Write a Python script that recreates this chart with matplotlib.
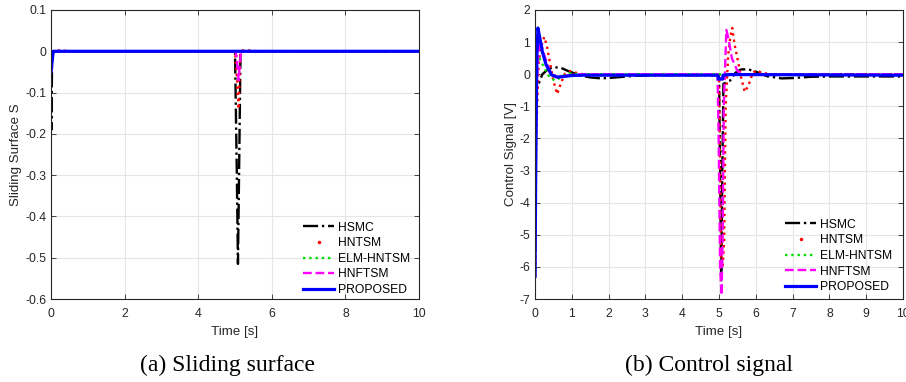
from matplotlib import pyplot as plt
from matplotlib.lines import Line2D
import numpy as np

plt.rcParams['font.family'] = ['Liberation Sans', 'DejaVu Sans']
plt.rcParams['axes.unicode_minus'] = False

labels = ['HSMC', 'HNTSM', 'ELM-HNTSM', 'HNFTSM', 'PROPOSED']

# ---- (a) sliding surface ----
s_hsmc_t = [0, 0.01, 0.03, 0.06, 5.0, 5.05, 5.08, 5.11, 5.15, 10]
s_hsmc = [-0.05, -0.19, -0.02, 0, 0, -0.3, -0.515, -0.3, 0, 0]
s_hntsm_t = [0, 0.03, 0.1, 0.3, 0.5, 5.0, 5.05, 5.1, 5.14, 5.2, 5.4, 5.6, 10]
s_hntsm = [-0.05, -0.01, 0.002, 0.002, 0, 0, -0.06, -0.14, -0.01, 0.002, 0.002, 0, 0]
s_elm_t = [0, 0.05, 10]
s_elm = [-0.05, 0, 0]
s_hnftsm_t = [0, 0.05, 5.0, 5.04, 5.08, 5.1, 5.13, 5.17, 10]
s_hnftsm = [-0.05, 0, 0, -0.01, -0.05, -0.07, -0.03, 0, 0]
s_prop_t = [0, 0.06, 10]
s_prop = [-0.05, 0, 0]

# ---- (b) control signal ----
u_hsmc_t = [0, 0.03, 0.1, 0.2, 0.35, 0.5, 0.7, 0.9, 1.2, 1.5, 1.8, 2.2, 2.7, 3.2,
            5.0, 5.03, 5.06, 5.09, 5.12, 5.3, 5.45, 5.6, 5.8, 6.0, 6.3, 6.7, 7.0, 7.5, 8, 10]
u_hsmc = [-6.3, -0.4, -0.3, 0.0, 0.15, 0.22, 0.2, 0.1, -0.03, -0.1, -0.13, -0.1, -0.05, -0.03,
          -0.03, -3.0, -6.45, -3.0, -0.3, -0.2, 0.05, 0.15, 0.15, 0.08, -0.06, -0.13, -0.12, -0.08, -0.07, -0.07]
u_hntsm_t = [0, 0.03, 0.1, 0.18, 0.25, 0.32, 0.4, 0.5, 0.6, 0.7, 0.8, 0.95, 1.1, 1.3,
             5.0, 5.06, 5.1, 5.14, 5.18, 5.25, 5.3, 5.36, 5.42, 5.5, 5.6, 5.7, 5.8, 5.92, 6.02, 6.15, 6.4, 10]
u_hntsm = [-6.3, -2.0, 0.4, 0.9, 1.16, 0.9, 0.4, -0.2, -0.62, -0.3, 0.0, 0.1, 0.05, 0.0,
           0.0, -5.7, -6.0, -5.2, -1.0, 0.6, 1.1, 1.44, 0.95, 0.5, -0.1, -0.55, -0.35, 0.05, 0.12, 0.05, 0.0, 0.0]
u_elm_t = [0, 0.03, 0.07, 0.12, 0.25, 0.4, 0.55, 0.7, 0.9, 1.2, 10]
u_elm = [-6.3, -1.0, 0.6, 0.5, 0.2, -0.1, -0.2, -0.1, 0.03, 0.0, 0.0]
u_hnftsm_t = [0, 0.03, 0.08, 0.14, 0.25, 0.4, 0.6, 0.8, 1.2, 4.96, 4.99, 5.03, 5.07, 5.1, 5.13,
              5.2, 5.26, 5.35, 5.5, 5.7, 6.0, 10]
u_hnftsm = [-6.3, -1.0, 0.5, 1.07, 0.6, 0.1, -0.1, -0.05, 0.0, 0.0, -2.0, -6.0, -6.88, -5.0, -1.0,
            1.38, 1.1, 0.5, 0.1, 0.0, 0.0, 0.0]
u_prop_t = [0, 0.02, 0.05, 0.08, 0.12, 0.2, 0.3, 0.45, 0.6, 0.8, 1.0, 1.3,
            4.97, 4.98, 5.1, 5.11, 5.3, 10]
u_prop = [-6.3, -3.0, 0.5, 1.44, 1.2, 0.7, 0.3, -0.02, -0.09, -0.07, -0.04, -0.03,
          -0.03, -0.15, -0.15, -0.03, -0.01, -0.03]

s_yticks = [-0.6, -0.5, -0.4, -0.3, -0.2, -0.1, 0, 0.1]
s_yticklabels = ['-0.6', '-0.5', '-0.4', '-0.3', '-0.2', '-0.1', '0', '0.1']

styles = [
    dict(color='black', ls='-.', lw=1.7),
    dict(color='red', ls=':', lw=1.7),
    dict(color='#00dd00', ls=':', lw=1.7),
    dict(color='magenta', ls='--', lw=1.7),
    dict(color='blue', ls='-', lw=2.3),
]

fg = '#262626'


def draw(ax, series, ylabel):
    for (t, y), st, lab in zip(series, styles, labels):
        ax.plot(t, y, label=lab, **st)
    ax.grid(True, color='#e6e6e6', lw=0.8)
    ax.set_axisbelow(True)
    ax.tick_params(direction='in', top=True, right=True, length=3.5,
                   labelsize=8.7, colors=fg, width=0.6)
    ax.tick_params(axis='x', pad=6.5)
    for sp in ax.spines.values():
        sp.set_color(fg)
        sp.set_linewidth(0.8)
    ax.set_xlabel('Time [s]', fontsize=9.6, color=fg, labelpad=4.5)
    ax.set_ylabel(ylabel, fontsize=9.6, color=fg, labelpad=2)


def add_legend(ax, anchor):
    h, l = ax.get_legend_handles_labels()
    h[1] = Line2D([], [], color='red', ls='none', marker='.', markersize=3)
    ax.legend(h, l, loc='lower left', bbox_to_anchor=anchor, frameon=False,
              fontsize=8.7, handlelength=2.6, handletextpad=0.3,
              labelspacing=0.3, borderpad=0, borderaxespad=0)


fig = plt.figure(figsize=(9.06, 3.82), dpi=100)
ax1 = fig.add_axes([51 / 906, 1 - 299 / 382, 368 / 906, 289 / 382])
ax2 = fig.add_axes([535 / 906, 1 - 299 / 382, 368 / 906, 289 / 382])

draw(ax1, [(s_hsmc_t, s_hsmc), (s_hntsm_t, s_hntsm), (s_elm_t, s_elm),
           (s_hnftsm_t, s_hnftsm), (s_prop_t, s_prop)], 'Sliding Surface S')
ax1.set_xlim(0, 10)
ax1.set_ylim(-0.6, 0.1)
ax1.set_xticks([0, 2, 4, 6, 8, 10])
ax1.set_yticks(s_yticks)
ax1.set_yticklabels(s_yticklabels)
add_legend(ax1, (0.685, 0.01))

draw(ax2, [(u_hsmc_t, u_hsmc), (u_hntsm_t, u_hntsm), (u_elm_t, u_elm),
           (u_hnftsm_t, u_hnftsm), (u_prop_t, u_prop)], 'Control Signal [V]')
ax2.set_xlim(0, 10)
ax2.set_ylim(-7, 2)
ax2.set_xticks(range(0, 11))
ax2.set_yticks(range(-7, 3))
add_legend(ax2, (0.679, 0.02))

fig.text(227 / 906, 1 - 365 / 382, '(a) Sliding surface', ha='center', va='center',
         fontsize=17, family='Liberation Serif')
fig.text(709 / 906, 1 - 365 / 382, '(b) Control signal', ha='center', va='center',
         fontsize=17, family='Liberation Serif')

fig.savefig('out.png', dpi=100)
